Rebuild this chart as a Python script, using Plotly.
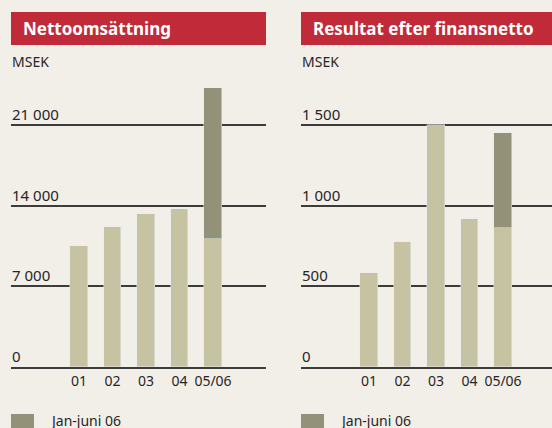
import plotly.graph_objects as go
from plotly.subplots import make_subplots

# ---- data ----
years = ["01", "02", "03", "04", "05/06"]

sales_base = [10500, 12140, 13270, 13710, 11110]          # Nettoomsättning, MSEK
sales_h1_06 = [None, None, None, None, 13100]             # Jan-juni 06 on top of 05
sales_ticks = [0, 7000, 14000, 21000]
sales_ticktext = ["0", "7 000", "14 000", "21 000"]

profit_base = [585, 773, 1500, 917, 860]                  # Resultat efter finansnetto, MSEK
profit_h1_06 = [None, None, None, None, 594]
profit_ticks = [0, 500, 1000, 1500]
profit_ticktext = ["0", "500", "1 000", "1 500"]

titles = ["Nettoomsättning", "Resultat efter finansnetto"]
unit = "MSEK"
legend_label = "Jan-juni 06"

# ---- style ----
W, H = 552, 428
BG = "#f2efe9"
LIGHT = "#c6c3a3"
DARK = "#939279"
RED = "#c12b39"
INK = "#262626"
GRID = "#3c3c3c"
FONT = "Noto Sans"

STEP = 33.5      # pixels between bar centres
LEAD = 68        # pixels from axis start to first bar centre


def px_x(p):
    return p / W


def px_y(p):
    return 1 - p / H


fig = make_subplots(rows=1, cols=2)

panels = [
    dict(base=sales_base, top=sales_h1_06, ticks=sales_ticks, ticktext=sales_ticktext,
         x0=11, x1=266, ymax=26670, title=titles[0]),
    dict(base=profit_base, top=profit_h1_06, ticks=profit_ticks, ticktext=profit_ticktext,
         x0=301, x1=552, ymax=1905, title=titles[1]),
]

y_bottom_px, y_top_px = 366.7, 60
for i, p in enumerate(panels, start=1):
    fig.add_trace(go.Bar(x=years, y=p["base"], marker_color=LIGHT, width=0.537,
                         showlegend=False, hoverinfo="x+y"), row=1, col=i)
    fig.add_trace(go.Bar(x=years, y=p["top"], marker_color=DARK, width=0.537,
                         name=legend_label, showlegend=False, hoverinfo="x+y"), row=1, col=i)

    xa = "xaxis" if i == 1 else "xaxis2"
    ya = "yaxis" if i == 1 else "yaxis2"
    fig.layout[xa].update(
        domain=[px_x(p["x0"]), px_x(p["x1"])],
        range=[-LEAD / STEP, (p["x1"] - p["x0"] - LEAD) / STEP],
        showgrid=False, zeroline=False, showline=True, linecolor=GRID, linewidth=1.5,
        ticks="", tickangle=0, tickfont=dict(family=FONT, size=14, color=INK),
        ticklabelstandoff=1, fixedrange=True,
    )
    fig.layout[ya].update(
        domain=[px_y(y_bottom_px), px_y(y_top_px)],
        range=[0, p["ymax"]], tickvals=p["ticks"], showticklabels=False,
        showgrid=True, gridcolor=GRID, gridwidth=1.5, zeroline=False, showline=False,
        fixedrange=True,
    )
    yref = "y" if i == 1 else "y2"
    for v, t in zip(p["ticks"], p["ticktext"]):
        fig.add_annotation(x=px_x(p["x0"] - 1.5), xref="paper", y=v, yref=yref, text=t,
                           xanchor="left", yanchor="bottom", yshift=-1, showarrow=False,
                           font=dict(family=FONT, size=15, color=INK))

    # title bar
    fig.add_shape(type="rect", xref="paper", yref="paper",
                  x0=px_x(p["x0"]), x1=px_x(p["x1"]), y0=px_y(45), y1=px_y(12),
                  fillcolor=RED, line_width=0, layer="below")
    fig.add_annotation(x=px_x(p["x0"] + 9.5), xref="paper", y=px_y(28.5), yref="paper",
                       text="<b>" + p["title"] + "</b>", xanchor="left", yanchor="middle",
                       showarrow=False, font=dict(family=FONT, size=17, color="white"))
    fig.add_annotation(x=px_x(p["x0"] - 1), xref="paper", y=px_y(61), yref="paper",
                       text=unit, xanchor="left", yanchor="middle", showarrow=False,
                       font=dict(family=FONT, size=14, color=INK))

    # legend swatch
    fig.add_shape(type="rect", xref="paper", yref="paper",
                  x0=px_x(p["x0"]), x1=px_x(p["x0"] + 23), y0=px_y(430), y1=px_y(414),
                  fillcolor=DARK, line_width=0)
    fig.add_annotation(x=px_x(p["x0"] + 37), xref="paper", y=px_y(420), yref="paper",
                       text=legend_label, xanchor="left", yanchor="middle", showarrow=False,
                       font=dict(family=FONT, size=14, color=INK))

fig.update_layout(
    width=W, height=H, margin=dict(l=0, r=0, t=0, b=0),
    paper_bgcolor=BG, plot_bgcolor=BG, barmode="stack", bargap=0,
    showlegend=False,
)

fig.write_html("out.html", config={"displayModeBar": False})
